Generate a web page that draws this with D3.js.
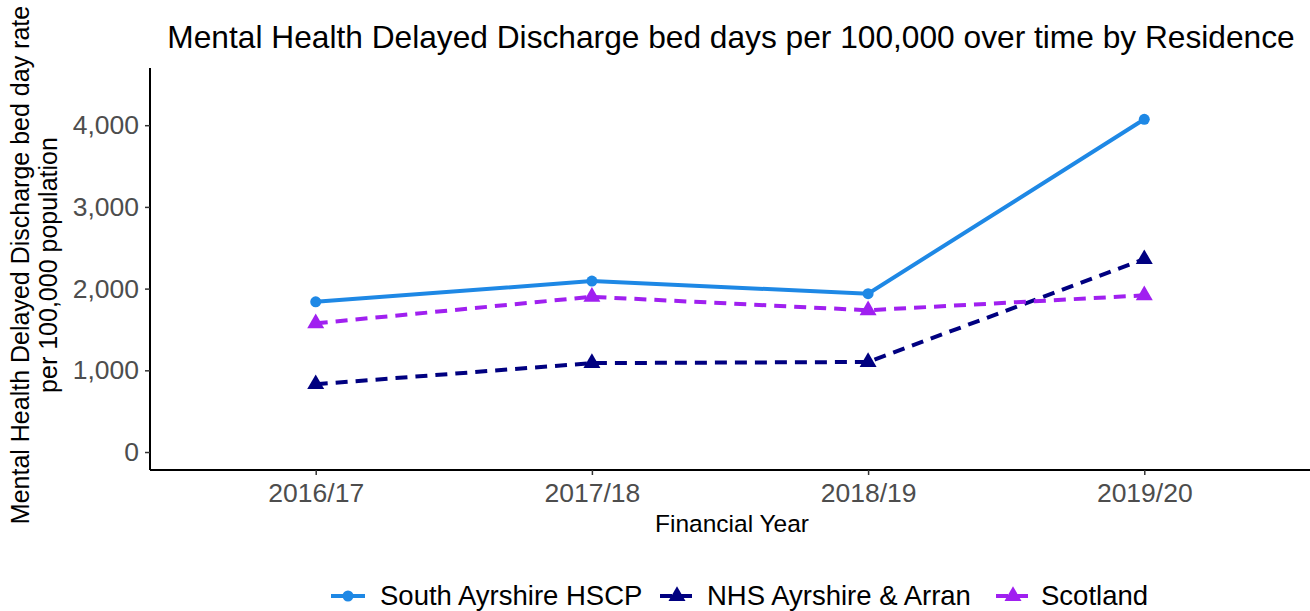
<!DOCTYPE html>
<html>
<head>
<meta charset="utf-8">
<script src="https://cdn.jsdelivr.net/npm/d3@7"></script>
<style>
  html, body { margin: 0; padding: 0; background: #fff; }
  svg { display: block; font-family: "Liberation Sans", Arial, Helvetica, sans-serif; }
</style>
</head>
<body>
<svg id="chart" width="1310" height="611"></svg>
<script>
// Financial years on the x axis
const years = ["2016/17", "2017/18", "2018/19", "2019/20"];

// Bed days per 100,000 population, by area of residence
const southAyrshire = [1838, 2092, 1938, 4072];
const nhsAyrshireArran = [830, 1088, 1102, 2360];
const scotland = [1575, 1900, 1735, 1918];

const seriesNames = ["South Ayrshire HSCP", "NHS Ayrshire & Arran", "Scotland"];
const yTicks = [0, 1000, 2000, 3000, 4000];

const series = [
  { name: seriesNames[0], values: southAyrshire, color: "#1E88E5", dash: null, shape: "circle" },
  { name: seriesNames[1], values: nhsAyrshireArran, color: "#000080", dash: "12,8", shape: "triangle" },
  { name: seriesNames[2], values: scotland, color: "#A020F0", dash: "12,8", shape: "triangle" }
];

const panel = { left: 150, right: 1310, top: 68, bottom: 470 };

const svg = d3.select("#chart");

const x = d3.scalePoint().domain(years)
  .range([panel.left, panel.right]).padding(0.6);
const y = d3.scaleLinear().domain([-220, 4700])
  .range([panel.bottom, panel.top]);

const triangle = d3.symbol().type(d3.symbolTriangle).size(125);

function drawShape(g, shape, color, cx, cy) {
  if (shape === "circle") {
    g.append("circle").attr("cx", cx).attr("cy", cy).attr("r", 5.5).attr("fill", color);
  } else {
    g.append("path").attr("d", triangle)
      .attr("transform", `translate(${cx},${cy})`).attr("fill", color);
  }
}

// Axes
const yAxis = svg.append("g").attr("transform", `translate(${panel.left},0)`)
  .call(d3.axisLeft(y).tickValues(yTicks).tickFormat(d3.format(",")).tickSize(5).tickPadding(6));
const xAxis = svg.append("g").attr("transform", `translate(0,${panel.bottom})`)
  .call(d3.axisBottom(x).tickSize(5).tickPadding(8));

[yAxis, xAxis].forEach(a => {
  a.select(".domain").attr("stroke", "#000").attr("stroke-width", 2);
  a.selectAll(".tick line").attr("stroke", "#333").attr("stroke-width", 1.5);
  a.selectAll(".tick text").attr("fill", "#4d4d4d").style("font-size", "26.5px");
});
yAxis.select(".domain").attr("d", `M0,${panel.top}V${panel.bottom}`);
xAxis.select(".domain").attr("d", `M${panel.left},0H${panel.right}`);

// Lines and points
const line = d3.line().x((d, i) => x(years[i])).y(d => y(d));
series.forEach(s => {
  svg.append("path").datum(s.values)
    .attr("d", line).attr("fill", "none")
    .attr("stroke", s.color).attr("stroke-width", 4)
    .attr("stroke-dasharray", s.dash);
});
series.forEach(s => {
  const g = svg.append("g");
  s.values.forEach((v, i) => drawShape(g, s.shape, s.color, x(years[i]), y(v)));
});

// Titles
svg.append("text").attr("x", (panel.left + panel.right) / 2 + 1).attr("y", 48)
  .attr("text-anchor", "middle").style("font-size", "31.7px").attr("fill", "#000")
  .text("Mental Health Delayed Discharge bed days per 100,000 over time by Residence");

svg.append("text").attr("x", (panel.left + panel.right) / 2 + 2).attr("y", 532)
  .attr("text-anchor", "middle").style("font-size", "24.5px").attr("fill", "#000")
  .text("Financial Year");

const yTitle = svg.append("text")
  .attr("transform", `translate(29,265) rotate(-90)`)
  .attr("text-anchor", "middle").style("font-size", "25px").attr("fill", "#000");
yTitle.append("tspan").attr("x", 0).attr("dy", 0).text("Mental Health Delayed Discharge bed day rate");
yTitle.append("tspan").attr("x", 0).attr("dy", 28).text("per 100,000 population");

// Legend
const legendItems = [
  { x: 331, textX: 380 },
  { x: 660, textX: 707 },
  { x: 996, textX: 1041 }
];
series.forEach((s, i) => {
  const g = svg.append("g");
  const lx = legendItems[i].x, ly = 596;
  g.append("line").attr("x1", lx).attr("x2", lx + 34).attr("y1", ly).attr("y2", ly)
    .attr("stroke", s.color).attr("stroke-width", 4).attr("stroke-dasharray", s.dash);
  drawShape(g, s.shape, s.color, lx + 17, ly);
  g.append("text").attr("x", legendItems[i].textX).attr("y", 604.5)
    .style("font-size", "27.5px").attr("fill", "#000").text(s.name);
});
</script>
</body>
</html>
